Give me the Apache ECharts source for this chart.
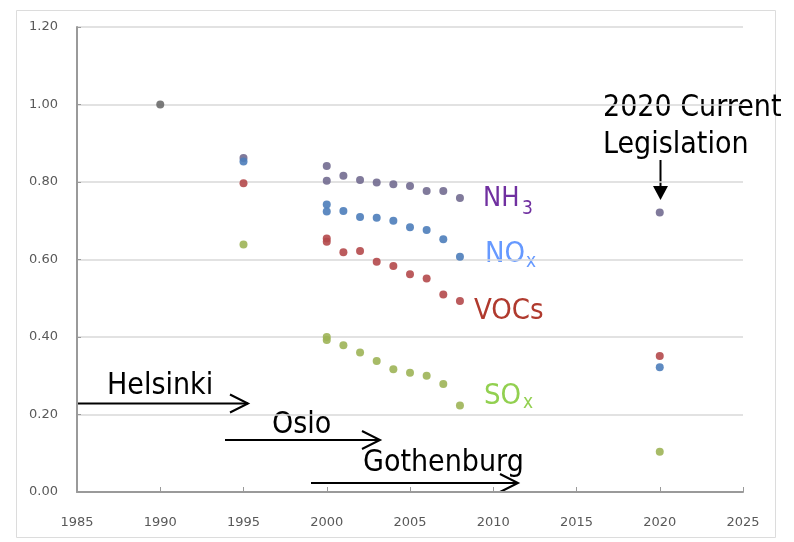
<!DOCTYPE html>
<html><head><meta charset="utf-8">
<script src="https://cdn.jsdelivr.net/npm/echarts@6/dist/echarts.min.js"></script>
<style>html,body{margin:0;padding:0;background:#fff}#c{width:794px;height:542px}</style>
</head><body><div id="c"></div>
<script>
// ---- data ----
const xTickLabels = [1985, 1990, 1995, 2000, 2005, 2010, 2015, 2020, 2025];
const yTickLabels = ['0.00', '0.20', '0.40', '0.60', '0.80', '1.00', '1.20'];
const base1990 = [[1990, 1.00]];
const nh3 = [[1995, 0.862], [2000, 0.841], [2000, 0.803], [2001, 0.816], [2002, 0.805], [2003, 0.799],
  [2004, 0.794], [2005, 0.790], [2006, 0.777], [2007, 0.777], [2008, 0.759], [2020, 0.721]];
const nox = [[1995, 0.853], [2000, 0.742], [2000, 0.724], [2001, 0.725], [2002, 0.710], [2003, 0.708],
  [2004, 0.700], [2005, 0.683], [2006, 0.676], [2007, 0.652], [2008, 0.607], [2020, 0.322]];
const vocs = [[1995, 0.797], [2000, 0.654], [2000, 0.646], [2001, 0.619], [2002, 0.622], [2003, 0.594],
  [2004, 0.583], [2005, 0.562], [2006, 0.551], [2007, 0.510], [2008, 0.493], [2020, 0.351]];
const sox = [[1995, 0.639], [2000, 0.400], [2000, 0.392], [2001, 0.379], [2002, 0.360], [2003, 0.338],
  [2004, 0.317], [2005, 0.308], [2006, 0.300], [2007, 0.279], [2008, 0.223], [2020, 0.104]];

const FONT = '"DejaVu Sans Condensed", "DejaVu Sans", sans-serif';
const chart = echarts.init(document.getElementById('c'), null, {renderer: 'canvas'});

function txt(text, x, y, size, color, align) {
  return {type: 'text', x: x, y: y, silent: true,
    style: {text: text, fontSize: size, fontFamily: FONT, fill: color,
      textAlign: align || 'left', textVerticalAlign: 'middle'}};
}
function line(points, w) {
  return {type: 'polyline', silent: true, shape: {points: points},
    style: {stroke: '#000', lineWidth: w || 2, fill: null}};
}

function scatter(name, data, color, size) {
  return {name: name, type: 'scatter', data: data, symbolSize: size || 8,
    itemStyle: {color: color, opacity: 0.9}, emphasis: {disabled: true}};
}

chart.setOption({
  animation: false,
  backgroundColor: '#fff',
  grid: {left: 77, right: 51, top: 27, bottom: 50, containLabel: false},
  xAxis: {
    type: 'value', min: 1985, max: 2025, interval: 5,
    axisLine: {show: true, lineStyle: {color: '#9a9a9a', width: 2}},
    axisTick: {show: true, inside: true, length: 5, lineStyle: {color: '#9a9a9a', width: 1}},
    splitLine: {show: false},
    axisLabel: {margin: 24, color: '#595959', fontSize: 13, fontFamily: '"DejaVu Sans", sans-serif',
      formatter: v => xTickLabels.includes(v) ? String(v) : ''}
  },
  yAxis: {
    type: 'value', min: 0, max: 1.2, interval: 0.2,
    axisLine: {show: true, lineStyle: {color: '#9a9a9a', width: 2}},
    axisTick: {show: true, inside: true, length: 4, lineStyle: {color: '#9a9a9a', width: 1}},
    splitLine: {show: true, lineStyle: {color: '#d9d9d9', width: 1.5}},
    axisLabel: {margin: 19, color: '#595959', fontSize: 13, fontFamily: '"DejaVu Sans", sans-serif',
      formatter: v => yTickLabels[Math.round(v / 0.2)]}
  },
  series: [
    scatter('1990', base1990, '#6b6b6b'),
    scatter('NH3', nh3, '#726c90'),
    scatter('NOx', nox, '#4d7dba'),
    scatter('VOCs', vocs, '#b4494b'),
    scatter('SOx', sox, '#9db457')
  ],
  graphic: [
    {type: 'rect', silent: true, shape: {x: 16.5, y: 10.5, width: 759, height: 527},
      style: {fill: null, stroke: '#dcdcdc', lineWidth: 1}},
    txt('NH', 483, 199, 27, '#7030a0'),
    txt('3', 522, 209, 19, '#7030a0'),
    txt('NO', 485, 254, 29, '#6699ff'),
    txt('x', 526, 262, 19, '#6699ff'),
    txt('VOCs', 474, 311, 29, '#b03a2e'),
    txt('SO', 484, 396, 29, '#92d050'),
    txt('x', 523, 403, 19, '#92d050'),
    txt('2020 Current', 603, 108, 30, '#000'),
    txt('Legislation', 603, 145, 30, '#000'),
    line([[660.5, 160], [660.5, 188]], 2),
    {type: 'polygon', silent: true, shape: {points: [[653, 186], [668, 186], [660.5, 200]]}, style: {fill: '#000'}},
    txt('Helsinki', 107, 386, 30, '#000'),
    line([[77, 403.5], [248, 403.5]], 2),
    line([[230, 394.5], [248, 403.5], [230, 412.5]], 2),
    txt('Oslo', 272, 425, 30, '#000'),
    line([[225, 440], [380, 440]], 2),
    line([[362, 431], [380, 440], [362, 449]], 2),
    txt('Gothenburg', 363, 463, 30, '#000'),
    line([[311, 483], [518, 483]], 2),
    line([[500, 474], [518, 483], [500, 492]], 2)
  ]
});
</script>
</body></html>
